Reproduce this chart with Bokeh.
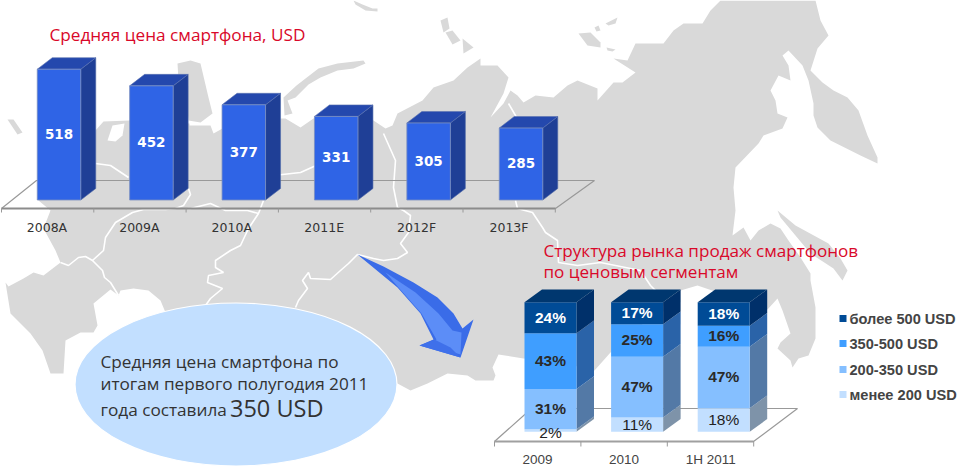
from bokeh.plotting import figure
from bokeh.models import Range1d
from bokeh.core.properties import value
from bokeh.embed import file_html
from bokeh.resources import INLINE

# ---------- data ----------
avg_years = ["2008A", "2009A", "2010A", "2011E", "2012F", "2013F"]
avg_price = [518, 452, 377, 331, 305, 285]

seg_periods = ["2009", "2010", "1H 2011"]
seg_names = ["менее 200 USD", "200-350 USD", "350-500 USD", "более 500 USD"]
seg_low = [2, 11, 18]
seg_mid = [31, 47, 47]
seg_high = [43, 25, 16]
seg_top = [24, 17, 18]

W, H = 958, 468
GRAY = "#d9d9d9"
RED = "#d9082a"

p = figure(width=W, height=H, output_backend="svg", toolbar_location=None,
           x_range=Range1d(0, W), y_range=Range1d(H, 0),
           min_border=0, outline_line_color=None, background_fill_color="white",
           border_fill_color="white")
p.axis.visible = False
p.grid.visible = False
p.styles = {"position": "absolute", "left": "0px", "top": "0px"}

# ---------- own scales of the two charts ----------
A_X0, A_DX = 58.5, 92.4          # pixel centre of first bar, step
A_Y0, A_K = 199.5, 0.2525        # pixel of zero, pixel per USD
p.extra_x_ranges["ax"] = Range1d(-A_X0 / A_DX, (W - A_X0) / A_DX)
p.extra_y_ranges["ay"] = Range1d((A_Y0 - H) / A_K, A_Y0 / A_K)
B_X0, B_DX = 550.0, 86.6
B_Y0, B_K = 431.3, 1.296
p.extra_x_ranges["bx"] = Range1d(-B_X0 / B_DX, (W - B_X0) / B_DX)
p.extra_y_ranges["by"] = Range1d((B_Y0 - H) / B_K, B_Y0 / B_K)

# ---------- map backdrop (pixel space) ----------
land = [
    (38,200),(50,210),(43,228),(55,250),(60,262),(43,275),(33,272),(23,278),(8,286),(5,282),(10,313),(30,333),
    (42,350),(50,373),(63,373),(65,340),(80,332),(93,332),(97,325),(93,303),(110,289),(118,295),(120,290),
    (133,288),(148,290),(160,300),(165,312),(240,380),(397,383),(410,390),(427,383),(447,373),(467,375),
    (475,380),(493,380),(495,375),(492,367),(498,354),(523,358),(560,362),(594,370),(610,352),(680,290),
    (697,285),(767,309),(777,298),(782,310),(790,333),(780,342),(777,348),(790,360),(792,367),(788,370),
    (792,367),(798,358),(808,355),(815,338),(815,307),(810,280),
    (810,273),(800,257),(788,240),(780,228),
    (770,223),(758,230),(750,240),(743,227),(732,235),(735,210),(733,187),(735,167),(758,143),(763,135),
    (782,128),(787,117),(777,113),(775,100),(770,90),(778,75),(790,80),(788,65),(782,55),(788,50),(802,65),
    (808,80),(813,103),(813,115),(817,127),(830,140),(860,155),(877,163),(877,157),(867,135),(858,110),
    (847,97),(833,90),(822,82),(810,70),(817,48),(828,35),(820,20),(815,0),(720,0),(710,10),(702,23),(683,23),
    (673,30),(663,43),(645,43),(635,43),(627,60),(613,58),(635,72),(622,82),(613,82),(597,100),(597,88),(577,80),
    (567,85),(553,97),(535,95),(523,102),(517,95),(510,90),(503,103),(490,117),(503,93),(508,77),(497,65),
    (480,65),(480,58),(467,67),(453,80),(433,87),(422,100),(397,113),(392,125),(385,128),(373,120),(358,110),
    (313,118),(300,127),(285,118),(281,118),(222,128),(213,133),(210,125),(189,125),(189,123),(129,120),
    (103,121),(95,130),(90,160),(40,190),
]
kola = [(177,63),(190,60),(200,63),(208,97),(212,113),(200,122),(188,120),(186,100),(178,80)]
nz = [(283,97),(296,85),(305,78),(318,68),(337,63),(363,60),(365,63),(353,68),(337,70),(320,77),(308,84),(295,97),(287,100),(292,113),(284,115)]
sakhalin = [(777,210),(795,225),(828,243),(840,258),(847,270),(842,280),(833,268),(810,253),(795,235),(780,217)]
islands = [
    [(7,119),(13,119),(22,132),(17,134)],
    [(440,20),(447,17),(449,28),(443,32)],
    [(445,32),(452,30),(460,40),(452,44)],
    [(462,38),(473,47),(463,53)],
    [(578,33),(590,32),(600,42),(600,47),(587,45)],
    [(594,27),(598,25),(600,30),(596,31)],
    [(605,23),(617,17),(615,23),(608,25)],
    [(606,47),(615,49),(612,51),(607,50)],
    [(353,0),(362,4),(372,8),(377,8),(377,11),(365,10),(355,4)],
]
lake = [(107,140),(112,125),(124,123),(122,135),(115,141)]

for poly in [land, kola, nz, sakhalin] + islands:
    p.patch([q[0] for q in poly], [q[1] for q in poly], fill_color=GRAY, line_color=None)
p.patch([q[0] for q in lake], [q[1] for q in lake], fill_color="white", line_color=None)

borders = [
    [(60,262),(68,265),(78,257),(85,256),(92,260),(103,250),(105,237),(115,222),(132,212),(143,209),(165,209),(175,208),(183,205),(190,194),(188,188)],
    [(92,260),(102,270),(104,277),(110,282),(118,295)],
    [(95,163),(110,165),(128,177)],
    [(187,208),(190,208),(210,203),(225,210),(247,210),(258,213),(263,200)],
    [(258,213),(248,228),(240,245),(230,250),(215,260),(215,267),(223,272),(208,275),(207,282),(222,288),(210,298),(205,305)],
    [(266,185),(273,175),(300,172),(320,163)],
    [(383,133),(395,160),(393,187),(397,207),(403,210),(410,215),(408,232),(400,243),(407,252),(397,258),(383,260),(373,258),(357,254),(348,263),(340,270),(330,279),(310,278),(308,272),(302,280),(307,288),(298,300),(295,307)],
    [(515,200),(517,208),(532,212),(542,227),(545,232),(557,240),(558,262),(577,265),(600,262),(640,270),(650,285),(655,290)],
    [(508,103),(515,115),(520,125)],
]
for line in borders:
    p.line([q[0] for q in line], [q[1] for q in line], line_color="white", line_width=1.6)

# ---------- left chart ----------
FLOOR = "#999999"
p.line([1, 36, 594, 555, 1], [208, 180, 180, 208, 208], line_color=FLOOR, line_width=1.2)
p.line([1, 555], [208, 208], line_color="#8c8c8c", line_width=2)
for i in range(7):
    x = 1 + i * 92.3
    p.line([x, x], [208, 212], line_color=FLOOR, line_width=1)

BW = 43.5 / A_DX
DX = 15 / A_DX
DY = 11.5 / A_K
ar = dict(x_range_name="ax", y_range_name="ay")
idx = list(range(len(avg_price)))

p.patches([[i + BW/2, i + BW/2 + DX, i + BW/2 + DX, i + BW/2] for i in idx],
          [[0, DY, v + DY, v] for v in avg_price],
          fill_color="#1f3f96", line_color="#4f6aa8", line_width=0.6, **ar)
p.patches([[i - BW/2, i - BW/2 + DX, i + BW/2 + DX, i + BW/2] for i in idx],
          [[v, v + DY, v + DY, v] for v in avg_price],
          fill_color="#2448ad", line_color="#5b72b0", line_width=0.6, **ar)
p.vbar(x=idx, width=BW, bottom=0, top=avg_price, fill_color="#2f64e6",
       line_color="#7b8fc0", line_width=0.8, **ar)
p.text(x=idx, y=[v / 2 + 3 for v in avg_price], text=[str(v) for v in avg_price],
       text_color="white", text_font=value("DejaVu Sans"), text_font_style="bold",
       text_font_size="13.5px", text_align="center", text_baseline="middle", **ar)
p.text(x=[i - 0.13 for i in idx], y=[-108.0] * 6, text=avg_years, text_color="#333333",
       text_font=value("DejaVu Sans"), text_font_size="12.5px",
       text_align="center", text_baseline="middle", **ar)

p.text(x=[49], y=[33.5], text=["Средняя цена смартфона, USD"], text_color=RED,
       text_font=value("Open Sans"), text_font_size="17.2px", text_baseline="middle")

# ---------- arrow ----------
arrow_out = [(357,254),(383,266),(413,282),(437,297),(453,313),(462,328),(473,319),(460,357),(419,345),(433,339),(420,313),(397,287)]
arrow_in = [(385,272),(415,292),(438,313),(452,330),(461,332),(460,354),(428,344),(436,339),(421,313),(398,287)]
arrow_low = [(419,345),(434,339),(450,347),(460,357)]
p.patch([q[0] for q in arrow_out], [q[1] for q in arrow_out], fill_color="#3a6ce8", line_color=None)
p.patch([q[0] for q in arrow_in], [q[1] for q in arrow_in], fill_color="#5c8df7", line_color=None)
p.patch([q[0] for q in arrow_low], [q[1] for q in arrow_low], fill_color="#3f70ea", line_color=None)

# ---------- ellipse callout ----------
p.ellipse(x=[235.5], y=[384], width=[322], height=[163], fill_color="#c2dfff",
          line_color="white", line_width=1.2)
p.text(x=[100, 100, 100], y=[360.5, 383, 409],
       text=["Средняя цена смартфона по", "итогам первого полугодия 2011", "года составила"],
       text_color="#333333", text_font=value("Open Sans"), text_font_size="17.2px",
       text_baseline="middle")
p.text(x=[229.5], y=[407], text=["350 USD"], text_color="#333333", text_font=value("Open Sans"),
       text_font_size="23.5px", text_baseline="middle")

# ---------- right chart ----------
p.text(x=[543, 543], y=[249.5, 270.5], text=["Структура рынка продаж смартфонов", "по ценовым сегментам"],
       text_color=RED, text_font=value("Open Sans"), text_font_size="17.1px", text_baseline="middle")

p.line([494, 531, 797, 753, 494], [441, 408, 408, 441, 441], line_color=FLOOR, line_width=1.2)
p.line([494, 753], [441, 441], line_color="#a0a0a0", line_width=1.8)
for i in range(4):
    x = 494 + i * 86.4
    p.line([x, x], [441, 446], line_color=FLOOR, line_width=1)

series = [seg_low, seg_mid, seg_high, seg_top]
fronts = ["#c2dfff", "#85bfff", "#3f9eff", "#004b96"]
sides = ["#7e93a9", "#5379a6", "#2a63a8", "#00306a"]
text_cols = ["#222222", "#2a2a2a", "#2a2a2a", "white"]
TOP_FACE = "#00376f"
BBW = 52.0 / B_DX
BDX = 17.5 / B_DX
BDY = 12.7 / B_K
br = dict(x_range_name="bx", y_range_name="by")

base = [0.0, 0.0, 0.0]
totals = [sum(s[j] for s in series) for j in range(3)]
ridx = [0, 1, 2]
for k, s in enumerate(series):
    bottoms = list(base)
    tops = [b + v * 100.0 / t for b, v, t in zip(base, s, totals)]
    p.patches([[i + BBW/2, i + BBW/2 + BDX, i + BBW/2 + BDX, i + BBW/2] for i in ridx],
              [[b, b + BDY, t + BDY, t] for b, t in zip(bottoms, tops)],
              fill_color=sides[k], line_color=None, **br)
    p.vbar(x=ridx, width=BBW, bottom=bottoms, top=tops, fill_color=fronts[k], line_color=None, **br)
    base = tops
p.patches([[i - BBW/2, i - BBW/2 + BDX, i + BBW/2 + BDX, i + BBW/2] for i in ridx],
          [[100, 100 + BDY, 100 + BDY, 100]] * 3, fill_color=TOP_FACE, line_color=None, **br)
base = [0.0, 0.0, 0.0]
for k, s in enumerate(series):
    tops = [b + v * 100.0 / t for b, v, t in zip(base, s, totals)]
    mids = [(b + t) / 2 + 0.5 for b, t in zip(base, tops)]
    if k == 0:
        mids[0] = -0.5
    p.text(x=ridx, y=mids, text=[f"{v}%" for v in s], text_color=text_cols[k],
           text_font=value("Liberation Sans"), text_font_style="bold" if k >= 1 else "normal",
           text_font_size="15.5px", text_align="center", text_baseline="middle", **br)
    base = tops
p.text(x=[-0.15, 0.85, 1.85], y=[-21.5] * 3, text=seg_periods, text_color="#444444",
       text_font=value("Liberation Sans"), text_font_size="13.5px",
       text_align="center", text_baseline="middle", **br)

# legend
leg_y = [394, 369, 343, 318]
for n, yy, c in zip(seg_names, leg_y, fronts):
    p.rect(x=[842.5], y=[yy], width=[7], height=[7], fill_color=c, line_color=None)
    p.text(x=[849], y=[yy], text=[n], text_color="#444444", text_font=value("Liberation Sans"),
           text_font_style="bold", text_font_size="14.6px", text_baseline="middle")

open("out.html", "w").write(file_html(p, INLINE))
